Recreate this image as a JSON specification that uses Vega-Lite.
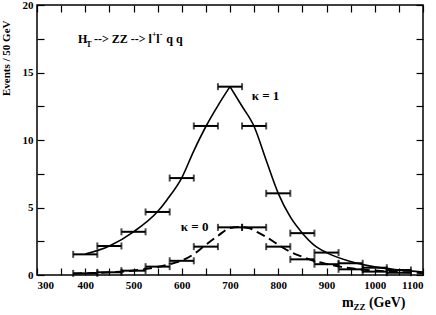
{
  "$schema": "https://vega.github.io/schema/vega-lite/v6.json",
  "width": 386,
  "height": 270,
  "autosize": {"type": "none"},
  "padding": {"left": 37, "top": 5, "right": 13, "bottom": 40},
  "background": "white",
  "view": {"stroke": "black", "strokeWidth": 1.5},
  "config": {
    "font": "Liberation Serif",
    "text": {"font": "Liberation Serif", "fontWeight": "bold", "color": "black"},
    "axis": {"labelFont": "Liberation Serif", "labelFontWeight": "bold", "labelColor": "black", "titleFont": "Liberation Serif", "titleFontWeight": "bold", "titleColor": "black", "grid": false, "domain": false, "tickColor": "black", "tickWidth": 1.2}
  },
  "datasets": {
    "bars": [
      {"k": "1", "m": 400, "lo": 375, "hi": 425, "ev": 1.53},
      {"k": "1", "m": 450, "lo": 425, "hi": 475, "ev": 2.15},
      {"k": "1", "m": 500, "lo": 475, "hi": 525, "ev": 3.2},
      {"k": "1", "m": 550, "lo": 525, "hi": 575, "ev": 4.67},
      {"k": "1", "m": 600, "lo": 575, "hi": 625, "ev": 7.18},
      {"k": "1", "m": 650, "lo": 625, "hi": 675, "ev": 11.04},
      {"k": "1", "m": 700, "lo": 675, "hi": 725, "ev": 13.95},
      {"k": "1", "m": 750, "lo": 725, "hi": 775, "ev": 11.04},
      {"k": "1", "m": 800, "lo": 775, "hi": 825, "ev": 6.05},
      {"k": "1", "m": 850, "lo": 825, "hi": 875, "ev": 3.1},
      {"k": "1", "m": 900, "lo": 875, "hi": 925, "ev": 1.66},
      {"k": "1", "m": 950, "lo": 925, "hi": 975, "ev": 0.87},
      {"k": "1", "m": 1000, "lo": 975, "hi": 1025, "ev": 0.54},
      {"k": "1", "m": 1050, "lo": 1025, "hi": 1075, "ev": 0.37},
      {"k": "0", "m": 400, "lo": 375, "hi": 425, "ev": 0.12},
      {"k": "0", "m": 450, "lo": 425, "hi": 475, "ev": 0.2},
      {"k": "0", "m": 500, "lo": 475, "hi": 525, "ev": 0.32},
      {"k": "0", "m": 550, "lo": 525, "hi": 575, "ev": 0.62},
      {"k": "0", "m": 600, "lo": 575, "hi": 625, "ev": 1.05},
      {"k": "0", "m": 650, "lo": 625, "hi": 675, "ev": 2.1},
      {"k": "0", "m": 700, "lo": 675, "hi": 725, "ev": 3.53},
      {"k": "0", "m": 750, "lo": 725, "hi": 775, "ev": 3.53},
      {"k": "0", "m": 800, "lo": 775, "hi": 825, "ev": 2.1},
      {"k": "0", "m": 850, "lo": 825, "hi": 875, "ev": 1.16},
      {"k": "0", "m": 900, "lo": 875, "hi": 925, "ev": 0.8},
      {"k": "0", "m": 950, "lo": 925, "hi": 975, "ev": 0.42},
      {"k": "0", "m": 1000, "lo": 975, "hi": 1025, "ev": 0.25},
      {"k": "0", "m": 1050, "lo": 1025, "hi": 1075, "ev": 0.17}
    ],
    "curves": [
      {"k": "1", "part": "L", "m": 400, "ev": 1.55},
      {"k": "1", "part": "L", "m": 450, "ev": 2.15},
      {"k": "1", "part": "L", "m": 500, "ev": 3.2},
      {"k": "1", "part": "L", "m": 550, "ev": 4.7},
      {"k": "1", "part": "L", "m": 570, "ev": 5.6},
      {"k": "1", "part": "L", "m": 600, "ev": 7.2},
      {"k": "1", "part": "L", "m": 625, "ev": 9.2},
      {"k": "1", "part": "L", "m": 650, "ev": 11.0},
      {"k": "1", "part": "L", "m": 675, "ev": 12.55},
      {"k": "1", "part": "L", "m": 700, "ev": 13.95},
      {"k": "1", "part": "R", "m": 700, "ev": 13.95},
      {"k": "1", "part": "R", "m": 725, "ev": 12.5},
      {"k": "1", "part": "R", "m": 750, "ev": 11.0},
      {"k": "1", "part": "R", "m": 775, "ev": 8.5},
      {"k": "1", "part": "R", "m": 800, "ev": 6.05},
      {"k": "1", "part": "R", "m": 825, "ev": 4.3},
      {"k": "1", "part": "R", "m": 850, "ev": 3.1},
      {"k": "1", "part": "R", "m": 875, "ev": 2.2},
      {"k": "1", "part": "R", "m": 900, "ev": 1.66},
      {"k": "1", "part": "R", "m": 950, "ev": 1.0},
      {"k": "1", "part": "R", "m": 1000, "ev": 0.6},
      {"k": "1", "part": "R", "m": 1050, "ev": 0.38},
      {"k": "1", "part": "R", "m": 1100, "ev": 0.22},
      {"k": "0", "part": "A", "m": 375, "ev": 0.1},
      {"k": "0", "part": "A", "m": 400, "ev": 0.13},
      {"k": "0", "part": "A", "m": 450, "ev": 0.2},
      {"k": "0", "part": "A", "m": 500, "ev": 0.33},
      {"k": "0", "part": "A", "m": 535, "ev": 0.5},
      {"k": "0", "part": "A", "m": 575, "ev": 0.8},
      {"k": "0", "part": "A", "m": 603, "ev": 1.11},
      {"k": "0", "part": "A", "m": 625, "ev": 1.55},
      {"k": "0", "part": "A", "m": 645, "ev": 2.1},
      {"k": "0", "part": "A", "m": 675, "ev": 2.9},
      {"k": "0", "part": "A", "m": 700, "ev": 3.48},
      {"k": "0", "part": "A", "m": 720, "ev": 3.56},
      {"k": "0", "part": "A", "m": 741, "ev": 3.46},
      {"k": "0", "part": "A", "m": 755, "ev": 3.2},
      {"k": "0", "part": "A", "m": 776, "ev": 2.8},
      {"k": "0", "part": "A", "m": 804, "ev": 2.15},
      {"k": "0", "part": "A", "m": 824, "ev": 1.73},
      {"k": "0", "part": "A", "m": 850, "ev": 1.35},
      {"k": "0", "part": "A", "m": 873, "ev": 1.06},
      {"k": "0", "part": "A", "m": 900, "ev": 0.82},
      {"k": "0", "part": "A", "m": 928, "ev": 0.62},
      {"k": "0", "part": "A", "m": 950, "ev": 0.5},
      {"k": "0", "part": "A", "m": 1000, "ev": 0.33},
      {"k": "0", "part": "A", "m": 1050, "ev": 0.22},
      {"k": "0", "part": "A", "m": 1100, "ev": 0.15}
    ],
    "mainText": [
      {"m": 385, "ev": 17.15, "t": "H"},
      {"m": 418, "ev": 17.15, "t": "--> ZZ -->"},
      {"m": 531, "ev": 17.15, "t": "l"},
      {"m": 547, "ev": 17.15, "t": "l"},
      {"m": 568, "ev": 17.15, "t": "q  q"}
    ],
    "kText": [
      {"m": 745, "ev": 12.96, "t": "κ = 1"},
      {"m": 598, "ev": 3.28, "t": "κ = 0"}
    ],
    "subText": [
      {"m": 402, "ev": 16.88, "t": "T"}
    ],
    "supText": [
      {"m": 538.5, "ev": 17.6, "t": "+"},
      {"m": 554.5, "ev": 17.6, "t": "-"}
    ],
    "xTitle": [
      {"m": 932, "ev": -2.35, "t": "m"},
      {"m": 988, "ev": -2.35, "t": "(GeV)"}
    ],
    "xTitleSub": [
      {"m": 956, "ev": -2.6, "t": "ZZ"}
    ]
  },
  "resolve": {"axis": {"x": "independent", "y": "independent"}},
  "layer": [
    {
      "data": {"name": "curves"},
      "transform": [{"filter": "datum.k == '1'"}],
      "mark": {"type": "line", "interpolate": "monotone", "color": "black", "strokeWidth": 1.6},
      "encoding": {
        "x": {"field": "m", "type": "quantitative", "scale": {"domain": [300, 1100], "nice": false},
          "axis": {"orient": "bottom", "values": [300,350,400,450,500,550,600,650,700,750,800,850,900,950,1000,1050,1100], "format": "d", "labelExpr": "datum.value % 100 == 0 ? datum.label : ''", "tickSize": -7, "labelPadding": 11, "labelFontSize": 11, "title": null}},
        "y": {"field": "ev", "type": "quantitative", "scale": {"domain": [0, 20], "nice": false},
          "axis": {"orient": "left", "values": [0,2.5,5,7.5,10,12.5,15,17.5,20], "format": "d", "labelExpr": "datum.value % 5 == 0 ? datum.label : ''", "tickSize": -7, "labelPadding": 11, "labelFontSize": 11, "title": "Events / 50 GeV", "titleFontSize": 11, "titleAnchor": "end", "titleX": -26, "titleY": 15}},
        "detail": {"field": "part"}
      }
    },
    {
      "data": {"name": "curves"},
      "transform": [{"filter": "datum.k == '0'"}],
      "mark": {"type": "line", "interpolate": "monotone", "color": "black", "strokeWidth": 2, "strokeDash": [9, 5]},
      "encoding": {
        "x": {"field": "m", "type": "quantitative", "scale": {"domain": [300, 1100], "nice": false},
          "axis": {"orient": "top", "values": [300,350,400,450,500,550,600,650,700,750,800,850,900,950,1000,1050,1100], "labels": false, "tickSize": -7, "title": null}},
        "y": {"field": "ev", "type": "quantitative", "scale": {"domain": [0, 20], "nice": false},
          "axis": {"orient": "right", "values": [0,2.5,5,7.5,10,12.5,15,17.5,20], "labels": false, "tickSize": -7, "title": null}}
      }
    },
    {
      "data": {"name": "bars"},
      "mark": {"type": "rule", "color": "black", "strokeWidth": 2},
      "encoding": {
        "x": {"field": "lo", "type": "quantitative", "scale": {"domain": [300, 1100], "nice": false}, "axis": null},
        "x2": {"field": "hi"},
        "y": {"field": "ev", "type": "quantitative", "scale": {"domain": [0, 20], "nice": false}, "axis": null}
      }
    },
    {
      "data": {"name": "bars"},
      "mark": {"type": "tick", "orient": "vertical", "color": "black", "size": 7, "thickness": 2},
      "encoding": {
        "x": {"field": "lo", "type": "quantitative", "scale": {"domain": [300, 1100], "nice": false}, "axis": null},
        "y": {"field": "ev", "type": "quantitative", "scale": {"domain": [0, 20], "nice": false}, "axis": null}
      }
    },
    {
      "data": {"name": "bars"},
      "mark": {"type": "tick", "orient": "vertical", "color": "black", "size": 7, "thickness": 2},
      "encoding": {
        "x": {"field": "hi", "type": "quantitative", "scale": {"domain": [300, 1100], "nice": false}, "axis": null},
        "y": {"field": "ev", "type": "quantitative", "scale": {"domain": [0, 20], "nice": false}, "axis": null}
      }
    },
    {
      "data": {"name": "mainText"},
      "mark": {"type": "text", "align": "left", "baseline": "alphabetic", "fontSize": 12},
      "encoding": {
        "x": {"field": "m", "type": "quantitative", "scale": {"domain": [300, 1100], "nice": false}, "axis": null},
        "y": {"field": "ev", "type": "quantitative", "scale": {"domain": [0, 20], "nice": false}, "axis": null},
        "text": {"field": "t"}
      }
    },
    {
      "data": {"name": "kText"},
      "mark": {"type": "text", "align": "left", "baseline": "alphabetic", "fontSize": 13},
      "encoding": {
        "x": {"field": "m", "type": "quantitative", "scale": {"domain": [300, 1100], "nice": false}, "axis": null},
        "y": {"field": "ev", "type": "quantitative", "scale": {"domain": [0, 20], "nice": false}, "axis": null},
        "text": {"field": "t"}
      }
    },
    {
      "data": {"name": "subText"},
      "mark": {"type": "text", "align": "left", "baseline": "alphabetic", "fontSize": 8},
      "encoding": {
        "x": {"field": "m", "type": "quantitative", "scale": {"domain": [300, 1100], "nice": false}, "axis": null},
        "y": {"field": "ev", "type": "quantitative", "scale": {"domain": [0, 20], "nice": false}, "axis": null},
        "text": {"field": "t"}
      }
    },
    {
      "data": {"name": "supText"},
      "mark": {"type": "text", "align": "left", "baseline": "alphabetic", "fontSize": 8},
      "encoding": {
        "x": {"field": "m", "type": "quantitative", "scale": {"domain": [300, 1100], "nice": false}, "axis": null},
        "y": {"field": "ev", "type": "quantitative", "scale": {"domain": [0, 20], "nice": false}, "axis": null},
        "text": {"field": "t"}
      }
    },
    {
      "data": {"name": "xTitle"},
      "mark": {"type": "text", "align": "left", "baseline": "alphabetic", "fontSize": 14},
      "encoding": {
        "x": {"field": "m", "type": "quantitative", "scale": {"domain": [300, 1100], "nice": false}, "axis": null},
        "y": {"field": "ev", "type": "quantitative", "scale": {"domain": [0, 20], "nice": false}, "axis": null},
        "text": {"field": "t"}
      }
    },
    {
      "data": {"name": "xTitleSub"},
      "mark": {"type": "text", "align": "left", "baseline": "alphabetic", "fontSize": 9},
      "encoding": {
        "x": {"field": "m", "type": "quantitative", "scale": {"domain": [300, 1100], "nice": false}, "axis": null},
        "y": {"field": "ev", "type": "quantitative", "scale": {"domain": [0, 20], "nice": false}, "axis": null},
        "text": {"field": "t"}
      }
    }
  ]
}
